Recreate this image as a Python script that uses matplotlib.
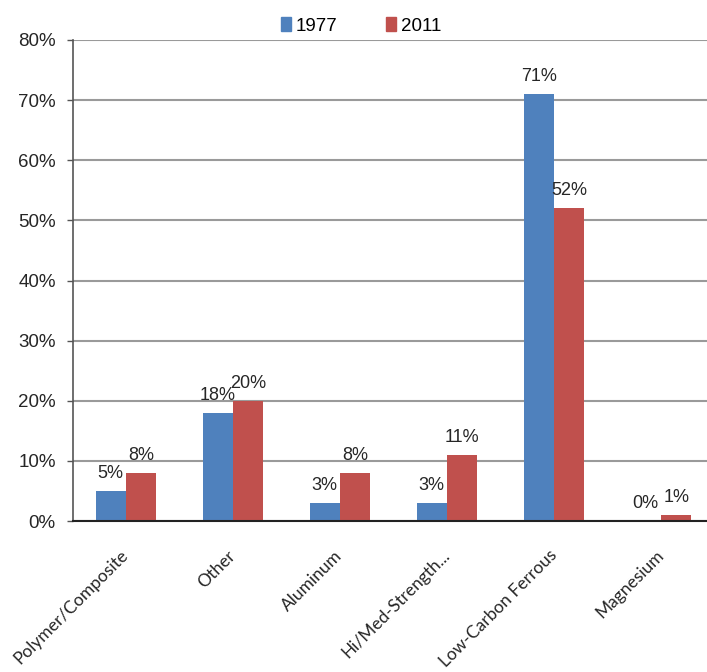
import matplotlib
matplotlib.use("Agg")
import matplotlib.pyplot as plt
from matplotlib.patches import Patch
import numpy as np

categories = ["Polymer/Composite", "Other", "Aluminum", "Hi/Med-Strength...",
              "Low-Carbon Ferrous", "Magnesium"]
values_1977 = [5, 18, 3, 3, 71, 0]
values_2011 = [8, 20, 8, 11, 52, 1]
series_names = ["1977", "2011"]
y_ticks = [0, 10, 20, 30, 40, 50, 60, 70, 80]

blue = "#4F81BD"
red = "#C0504D"

W, H = 707, 672
fig = plt.figure(figsize=(W / 100, H / 100), dpi=100)
# plot area runs slightly past the right edge of the canvas
ax = fig.add_axes([72.5 / W, 151 / H, 642 / W, 481 / H])

x = np.arange(len(categories))
w = 0.285
ax.bar(x - w / 2, values_1977, width=w, color=blue, zorder=3)
ax.bar(x + w / 2, values_2011, width=w, color=red, zorder=3)

label_font = dict(family="Liberation Sans", fontsize=13, color="#262626")
for xi, v in zip(x - w / 2, values_1977):
    ax.annotate(f"{v}%", (xi, v), xytext=(0, 6.5), textcoords="offset points",
                ha="center", va="bottom", **label_font)
for xi, v in zip(x + w / 2, values_2011):
    ax.annotate(f"{v}%", (xi, v), xytext=(0, 6.5), textcoords="offset points",
                ha="center", va="bottom", **label_font)

ax.set_xlim(-0.5, 5.5)
ax.set_ylim(0, 80)
ax.set_yticks(y_ticks)
ax.set_yticklabels([f"{t}%" for t in y_ticks], family="Liberation Sans",
                   fontsize=13.5, color="#262626")
ax.yaxis.grid(True, color="#9a9a9a", linewidth=1.5, zorder=0)
ax.set_axisbelow(True)
ax.tick_params(axis="y", length=4, width=1, color="#555555", pad=8)

ax.set_xticks(x)
ax.set_xticklabels(categories, rotation=45, ha="right", va="center",
                   rotation_mode="anchor", family="Lato", fontsize=12.5,
                   color="#262626")
ax.tick_params(axis="x", length=0, pad=23)

for s in ["top", "right"]:
    ax.spines[s].set_visible(False)
ax.spines["left"].set_color("#555555")
ax.spines["left"].set_linewidth(1.2)
ax.spines["bottom"].set_color("#222222")
ax.spines["bottom"].set_linewidth(1.5)
ax.spines["bottom"].set_zorder(4)

handles = [Patch(color=blue), Patch(color=red)]
fig.legend(handles, series_names, loc="center", bbox_to_anchor=(361 / W, 1 - 26 / H),
           ncol=2, frameon=False, handlelength=0.55, handleheight=0.7,
           handletextpad=0.25, columnspacing=2.6,
           prop=dict(family="Liberation Sans", size=13.5))

fig.savefig("out.png", dpi=100)
